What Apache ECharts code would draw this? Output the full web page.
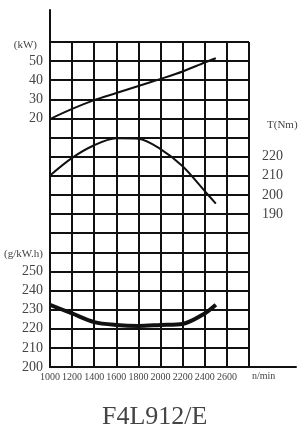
<!DOCTYPE html>
<html>
<head>
<meta charset="utf-8">
<style>
  html, body { margin: 0; padding: 0; background: #fff; }
  #main { width: 308px; height: 440px; }
</style>
<script src="https://cdn.jsdelivr.net/npm/echarts@6/dist/echarts.min.js"></script>
</head>
<body>
<div id="main"></div>
<script>
// 转速 n/min
var speed = [1000, 1200, 1400, 1600, 1800, 2000, 2200, 2400, 2500];
// 功率 kW
var power = [19.7, 25, 29.6, 33.3, 37, 40.7, 44.6, 49.3, 51.5];
// 扭矩 Nm
var torque = [210.2, 219.4, 226, 229.6, 229.4, 224, 215, 202, 195.5];
// 油耗 g/kW.h
var bsfc = [232.5, 228, 223.5, 222, 221.5, 222, 222.5, 228, 232.5];

var kwTicks = [20, 30, 40, 50];
var nmTicks = [190, 200, 210, 220];
var geTicks = [200, 210, 220, 230, 240, 250];
var title = "F4L912/E";

var font = "Liberation Serif";
var ink = "#111";
var txt = "#444";

function pairs(ys){
    var out = [];
    for (var i = 0; i < speed.length; i++) out.push([speed[i], ys[i]]);
    return out;
}
function onlyTicks(list){
    return function(v){ return list.indexOf(v) >= 0 ? String(v) : ""; };
}

var chart = echarts.init(document.getElementById("main"));
var option = {
    animation: false,
    backgroundColor: "#fff",
    title: {
        text: title, left: 97, top: 399,
        textStyle: { fontFamily: font, fontSize: 26, fontWeight: "normal", color: txt }
    },
    grid: [
        // 网格
        { left: 50, top: 42, width: 199, height: 325, outerBoundsMode: "none" },
        // 延长的坐标轴
        { left: 50, top: 10, width: 246, height: 357, outerBoundsMode: "none" }
    ],
    xAxis: [
        {
            type: "value", gridIndex: 0, min: 1000, max: 2800, interval: 200,
            axisLine: { show: false }, axisTick: { show: false },
            splitLine: { show: true, lineStyle: { color: ink, width: 2 } },
            axisLabel: {
                margin: 5, fontFamily: font, fontSize: 10, color: txt,
                formatter: function(v){ return v >= 2800 ? "" : String(v); }
            }
        },
        {
            type: "value", gridIndex: 1, min: 0, max: 1,
            axisLine: { show: true, lineStyle: { color: ink, width: 2 } },
            axisTick: { show: false }, axisLabel: { show: false }, splitLine: { show: false }
        }
    ],
    yAxis: [
        {   // kW
            type: "value", gridIndex: 0, position: "left", min: -110, max: 60, interval: 10,
            axisLine: { show: false }, axisTick: { show: false },
            splitLine: { show: true, lineStyle: { color: ink, width: 2 } },
            axisLabel: { margin: 7, fontFamily: font, fontSize: 14, color: txt, formatter: onlyTicks(kwTicks) }
        },
        {   // Nm
            type: "value", gridIndex: 0, position: "right", min: 110, max: 280, interval: 10,
            axisLine: { show: false }, axisTick: { show: false }, splitLine: { show: false },
            axisLabel: { margin: 13, fontFamily: font, fontSize: 14, color: txt, formatter: onlyTicks(nmTicks) }
        },
        {   // g/kW.h
            type: "value", gridIndex: 0, position: "left", min: 200, max: 370, interval: 10,
            axisLine: { show: false }, axisTick: { show: false }, splitLine: { show: false },
            axisLabel: { margin: 7, fontFamily: font, fontSize: 14, color: txt, formatter: onlyTicks(geTicks) }
        },
        {
            type: "value", gridIndex: 1, min: 0, max: 1,
            axisLine: { show: true, lineStyle: { color: ink, width: 2 } },
            axisTick: { show: false }, axisLabel: { show: false }, splitLine: { show: false }
        }
    ],
    graphic: [
        { type: "text", right: 308 - 37, top: 40, style: { text: "(kW)", font: "11px " + font, fill: txt } },
        { type: "text", right: 308 - 43, top: 249, style: { text: "(g/kW.h)", font: "11px " + font, fill: txt } },
        { type: "text", left: 267, top: 120, style: { text: "T(Nm)", font: "11px " + font, fill: txt } },
        { type: "text", left: 252, top: 371, style: { text: "n/min", font: "10px " + font, fill: txt } }
    ],
    series: [
        {
            name: "kW", type: "line", xAxisIndex: 0, yAxisIndex: 0, data: pairs(power),
            smooth: 0.3, symbol: "none", lineStyle: { color: ink, width: 2 }
        },
        {
            name: "Nm", type: "line", xAxisIndex: 0, yAxisIndex: 1, data: pairs(torque),
            smooth: 0.3, symbol: "none", lineStyle: { color: ink, width: 2 }
        },
        {
            name: "g/kW.h", type: "line", xAxisIndex: 0, yAxisIndex: 2, data: pairs(bsfc),
            smooth: 0.3, symbol: "none", lineStyle: { color: ink, width: 4 }
        }
    ]
};
chart.setOption(option);
</script>
</body>
</html>
